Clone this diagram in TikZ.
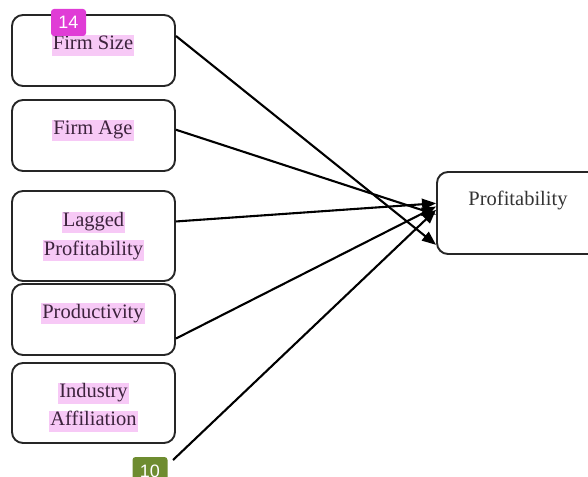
\documentclass[tikz,border=0pt]{standalone}
\usepackage{fontspec}
\setmainfont{Liberation Serif}
\setsansfont{Liberation Sans}
\usetikzlibrary{arrows.meta}

\definecolor{hl}{RGB}{247,201,246}
\definecolor{hltext}{RGB}{60,35,60}
\definecolor{tagpink}{RGB}{224,60,214}
\definecolor{tagolive}{RGB}{110,140,48}

\begin{document}
\begin{tikzpicture}[x=1pt,y=-1pt,
  varbox/.style={draw=black!85, line width=1.9pt, rounded corners=11pt,
    minimum width=163pt, inner sep=0pt},
  lbl/.style={fill=hl, inner xsep=1pt, inner ysep=1pt, text height=14pt,
    text depth=5pt, text=hltext, font=\fontsize{20.5}{24}\selectfont},
  plain/.style={inner sep=0pt, text=black!80, font=\fontsize{20.5}{24}\selectfont},
  link/.style={line width=2.1pt, draw=black, -{Triangle[length=14pt,width=11pt]}},
  tag/.style={rounded corners=3pt, text=white, font=\sffamily\fontsize{18}{18}\selectfont,
    minimum width=35pt, inner sep=0pt}]

\useasboundingbox (0,0) rectangle (588,476);

% explanatory variables
\node[varbox, minimum height=71pt] (size) at (93.5,50.5) {};
\node[varbox, minimum height=71pt] (age)  at (93.5,135.5) {};
\node[varbox, minimum height=90pt] (lag)  at (93.5,236) {};
\node[varbox, minimum height=71pt] (prod) at (93.5,319.5) {};
\node[varbox, minimum height=80pt] (ind)  at (93.5,403) {};

% dependent variable
\node[varbox, minimum width=183pt, minimum height=82pt] (profit) at (528.5,213) {};

% labels
\node[lbl] (tsize) at (93,45.5)   {Firm Size};
\node[lbl] (tage)  at (93,130)    {Firm Age};
\node[lbl] (tlag1) at (93.5,222)  {Lagged};
\node[lbl] (tlag2) at (93.5,250.5){Profitability};
\node[lbl] (tprod) at (93,313.5)  {Productivity};
\node[lbl] (tind1) at (93.5,393)  {Industry};
\node[lbl] (tind2) at (93.5,421)  {Affiliation};
\node[plain] (tprofit) at (518,200) {Profitability};

% paths into profitability
\coordinate (indfoot) at (173,460);
\draw[link] (size.10)  -- (profit.199);
\draw[link] (age.4)    -- (profit.181);
\draw[link] (lag.10)   -- (profit.174);
\draw[link] (prod.-13) -- (profit.176);
\draw[link] (indfoot)  -- (profit.178);

% page markers
\node[tag, fill=tagpink, minimum height=27pt]  (t14) at (68.5,22.5)  {14};
\node[tag, fill=tagolive, minimum height=29pt] (t10) at (150,471.5) {10};

\end{tikzpicture}
\end{document}
